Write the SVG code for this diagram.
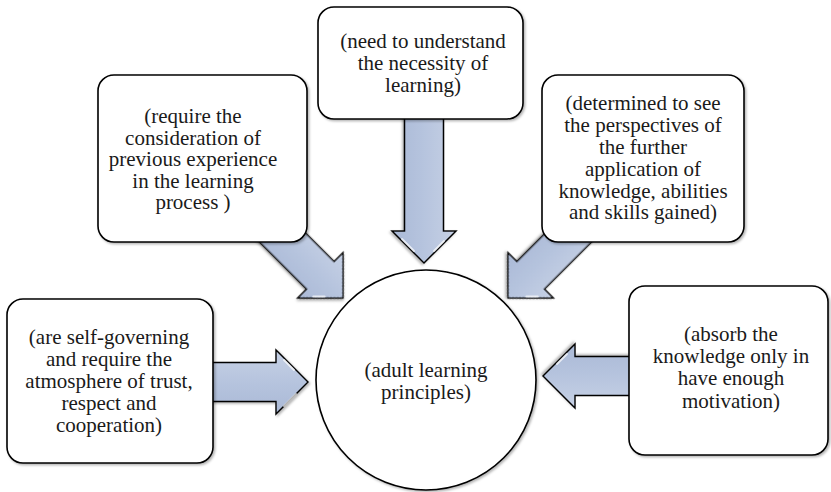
<svg xmlns="http://www.w3.org/2000/svg" width="831" height="492" viewBox="0 0 831 492" font-family="'Liberation Serif', 'DejaVu Serif', serif">
<style>
.box{fill:#ffffff;stroke:#000000;stroke-width:1.6;filter:url(#sh)}
.arr{fill:url(#ag);stroke:#000000;stroke-width:1.4;stroke-linejoin:miter;filter:url(#sh)}
text{font-family:'Liberation Serif','DejaVu Serif',serif;font-size:21px;fill:#1a1a1a;text-anchor:middle}
.gl{fill:none;stroke:#ffffff;stroke-width:2;stroke-linecap:round;opacity:0.7}
</style>
<defs>
<linearGradient id="ag" x1="0" y1="0" x2="0" y2="1">
<stop offset="0" stop-color="#c6d1e5"/>
<stop offset="0.5" stop-color="#b6c4de"/>
<stop offset="1" stop-color="#aab9d6"/>
</linearGradient>
<filter id="sh" x="-10%" y="-10%" width="125%" height="125%">
<feDropShadow dx="1.5" dy="1.5" stdDeviation="1.2" flood-color="#000000" flood-opacity="0.3"/>
</filter>
</defs>
<g id="connectors">
<g transform="translate(308,382)"><path class="arr" d="M -100 -19.5 H -32 V -32 L 0 0 L -32 32 V 19.5 H -100 Z"/><path class="gl" d="M -24 -22 L -14 -12 M -12 12 L -24 24"/></g>
<g transform="translate(543,376) rotate(180)"><path class="arr" d="M -100 -19.5 H -32 V -32 L 0 0 L -32 32 V 19.5 H -100 Z"/><path class="gl" d="M -24 22 L -14 12"/></g>
<g transform="translate(424,263) rotate(90)"><path class="arr" d="M -150 -19.5 H -32 V -32 L 0 0 L -32 32 V 19.5 H -150 Z"/><path class="gl" d="M -24 22 L -12 10 M -12 -10 L -22 -20"/></g>
<g transform="translate(343,298) rotate(45)"><path class="arr" d="M -110 -19.5 H -32 V -32 L 0 0 L -32 32 V 19.5 H -110 Z"/><path class="gl" d="M -14 12 L -22 20"/></g>
<g transform="translate(508,298) rotate(135)"><path class="arr" d="M -110 -19.5 H -32 V -32 L 0 0 L -32 32 V 19.5 H -110 Z"/><path class="gl" d="M -14 -12 L -22 -20"/></g>
</g>
<g id="node-top">
<rect class="box" x="318" y="7" width="205" height="112" rx="16"/>
<text x="423" y="48">(need to understand</text>
<text x="423" y="70">the necessity of</text>
<text x="423" y="92">learning)</text>
</g>
<g id="node-upper-left">
<rect class="box" x="98" y="75" width="209" height="167" rx="16"/>
<text x="193" y="123">(require the</text>
<text x="193" y="144.5">consideration of</text>
<text x="193" y="166">previous experience</text>
<text x="193" y="187.5">in the learning</text>
<text x="193" y="209">process )</text>
</g>
<g id="node-upper-right">
<rect class="box" x="542" y="75" width="202" height="167" rx="16"/>
<text x="643" y="110">(determined to see</text>
<text x="643" y="132">the perspectives of</text>
<text x="643" y="154">the further</text>
<text x="643" y="176">application of</text>
<text x="643" y="198">knowledge, abilities</text>
<text x="643" y="219">and skills gained)</text>
</g>
<g id="node-lower-left">
<rect class="box" x="7" y="299" width="206" height="164" rx="16"/>
<text x="109" y="344">(are self-governing</text>
<text x="109" y="366">and require the</text>
<text x="109" y="388">atmosphere of trust,</text>
<text x="109" y="410">respect and</text>
<text x="109" y="432">cooperation)</text>
</g>
<g id="node-lower-right">
<rect class="box" x="629" y="286" width="199" height="169" rx="16"/>
<text x="731" y="341">(absorb the</text>
<text x="731" y="363">knowledge only in</text>
<text x="731" y="385">have enough</text>
<text x="731" y="408">motivation)</text>
</g>
<g id="node-center">
<circle class="box" cx="426" cy="380" r="110"/>
<text x="426" y="377">(adult learning</text>
<text x="426" y="399">principles)</text>
</g>
</svg>
